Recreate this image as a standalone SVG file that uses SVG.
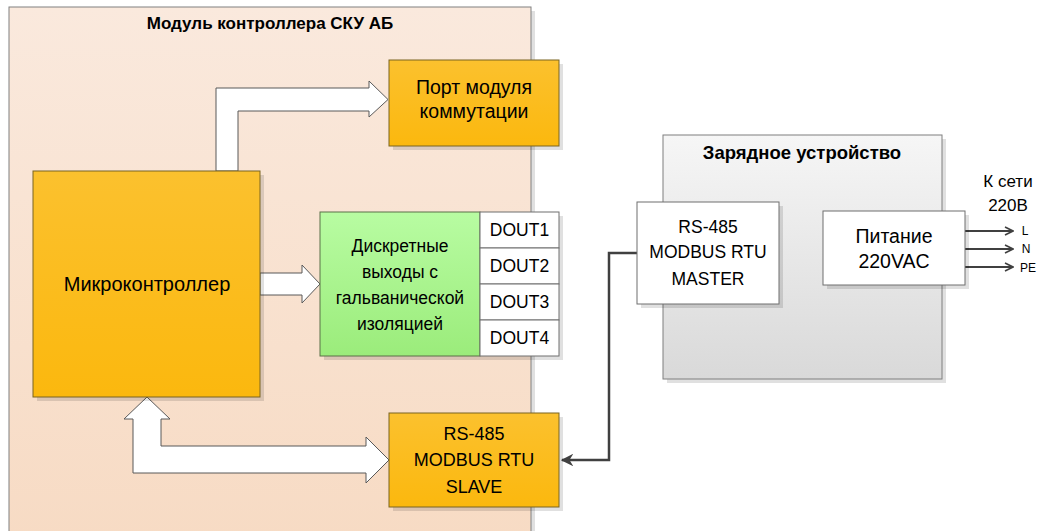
<svg xmlns="http://www.w3.org/2000/svg" width="1043" height="531" viewBox="0 0 1043 531">
<defs>
<linearGradient id="gMod" x1="0" y1="0" x2="0" y2="1"><stop offset="0" stop-color="#fae9dd"/><stop offset="1" stop-color="#f7dbc4"/></linearGradient>
<linearGradient id="gOr" x1="0" y1="0" x2="0" y2="1"><stop offset="0" stop-color="#fbc12e"/><stop offset="1" stop-color="#fbb80e"/></linearGradient>
<linearGradient id="gGr" x1="0" y1="0" x2="0" y2="1"><stop offset="0" stop-color="#b8fca2"/><stop offset="1" stop-color="#9bec7b"/></linearGradient>
<linearGradient id="gGy" x1="0" y1="0" x2="0" y2="1"><stop offset="0" stop-color="#f6f6f6"/><stop offset="1" stop-color="#d9d9d9"/></linearGradient>
<marker id="mFill" viewBox="0 0 10 10" refX="9" refY="5" markerWidth="5" markerHeight="5" orient="auto" markerUnits="strokeWidth"><path d="M0,0 L10,5 L0,10 L3,5 Z" fill="#404040"/></marker>
<marker id="mOpen" viewBox="0 0 10 10" refX="9" refY="5" markerWidth="5" markerHeight="5" orient="auto" markerUnits="strokeWidth"><path d="M1,1 L9,5 L1,9" fill="none" stroke="#404040" stroke-width="1.6"/></marker>
</defs>
<style>
text{font-family:"Liberation Sans",Arial,sans-serif;fill:#000;text-anchor:middle}
.t{font-size:17.5px}
.b{font-size:17px;font-weight:bold}
.s{font-size:12px}
.sh{fill:#000;opacity:0.12}
.or{fill:url(#gOr);stroke:#7a6420;stroke-width:1}
.wh{fill:#fff;stroke:#6f6f6f;stroke-width:1}
.blk{fill:#fff;stroke:#595959;stroke-width:1}
.ln{fill:none;stroke:#404040;stroke-width:2.5}
.ln2{fill:none;stroke:#404040;stroke-width:2}
</style>

<g id="module">
<rect class="sh" x="13" y="11" width="522" height="530"/>
<rect x="9" y="7" width="522" height="530" fill="url(#gMod)" stroke="#808080"/>
<text class="b" x="270" y="29">Модуль контроллера СКУ АБ</text>
</g>

<g id="charger">
<rect class="sh" x="667" y="139" width="279" height="244"/>
<rect x="663" y="135" width="279" height="244" fill="url(#gGy)" stroke="#7f7f7f"/>
<text class="b" x="802" y="159" style="font-size:18.5px">Зарядное устройство</text>
</g>

<g id="connectors">
<path class="blk" d="M216,171 L216,88 L369,88 L369,81 L388,99.5 L369,117 L369,111 L238,111 L238,171 Z"/>
<path class="blk" d="M260,273 L302,273 L302,265 L320,284 L302,303 L302,295 L260,295 Z"/>
<path class="blk" d="M147,397 L170,419 L161,419 L161,446 L366,446 L366,437 L389,460 L366,483 L366,473 L133,473 L133,419 L124,419 Z"/>
<path class="ln" d="M637,253 L609,253 L609,460 L562,460" marker-end="url(#mFill)"/>
<path class="ln2" d="M965,231 L1013,231" marker-end="url(#mOpen)"/>
<path class="ln2" d="M965,249 L1013,249" marker-end="url(#mOpen)"/>
<path class="ln2" d="M965,267 L1013,267" marker-end="url(#mOpen)"/>
</g>

<g id="port">
<rect class="sh" x="393" y="64" width="170" height="86"/>
<rect class="or" x="389" y="60" width="170" height="86"/>
<text class="t" x="474" y="94" style="font-size:19.5px">Порт модуля</text>
<text class="t" x="474" y="118" style="font-size:19.5px">коммутации</text>
</g>

<g id="mcu">
<rect class="sh" x="37" y="175" width="227" height="226"/>
<rect class="or" x="33" y="171" width="227" height="226"/>
<text class="t" x="147" y="291" style="font-size:20px">Микроконтроллер</text>
</g>

<g id="dout">
<rect class="sh" x="324" y="216" width="239" height="144"/>
<rect x="320" y="212" width="160" height="144" fill="url(#gGr)" stroke="#5a7048"/>
<text class="t" x="400" y="252">Дискретные</text>
<text class="t" x="400" y="278">выходы с</text>
<text class="t" x="400" y="304">гальванической</text>
<text class="t" x="400" y="330">изоляцией</text>
<rect class="wh" x="480" y="212" width="79" height="36"/>
<rect class="wh" x="480" y="248" width="79" height="36"/>
<rect class="wh" x="480" y="284" width="79" height="36"/>
<rect class="wh" x="480" y="320" width="79" height="36"/>
<text class="t" x="519.5" y="236">DOUT1</text>
<text class="t" x="519.5" y="272">DOUT2</text>
<text class="t" x="519.5" y="308">DOUT3</text>
<text class="t" x="519.5" y="344">DOUT4</text>
</g>

<g id="slave">
<rect class="sh" x="393" y="417" width="170" height="94"/>
<rect class="or" x="389" y="413" width="170" height="94"/>
<text class="t" x="474" y="440" style="font-size:18px">RS-485</text>
<text class="t" x="474" y="466" style="font-size:18px">MODBUS RTU</text>
<text class="t" x="474" y="493" style="font-size:18px">SLAVE</text>
</g>

<g id="master">
<rect class="sh" x="641" y="206" width="142" height="102"/>
<rect class="wh" x="637" y="202" width="142" height="102"/>
<text class="t" x="708" y="233">RS-485</text>
<text class="t" x="708" y="258">MODBUS RTU</text>
<text class="t" x="708" y="285">MASTER</text>
</g>

<g id="power">
<rect class="sh" x="827" y="215" width="142" height="74"/>
<rect class="wh" x="823" y="211" width="142" height="74"/>
<text class="t" x="894" y="243" style="font-size:19.5px">Питание</text>
<text class="t" x="894" y="268" style="font-size:19.5px">220VAC</text>
</g>

<g id="grid">
<text class="t" x="1008" y="187" style="font-size:17px">К сети</text>
<text class="t" x="1008" y="211" style="font-size:17px">220В</text>
<text class="s" x="1025" y="235">L</text>
<text class="s" x="1026" y="253">N</text>
<text class="s" x="1028" y="272">PE</text>
</g>
</svg>
